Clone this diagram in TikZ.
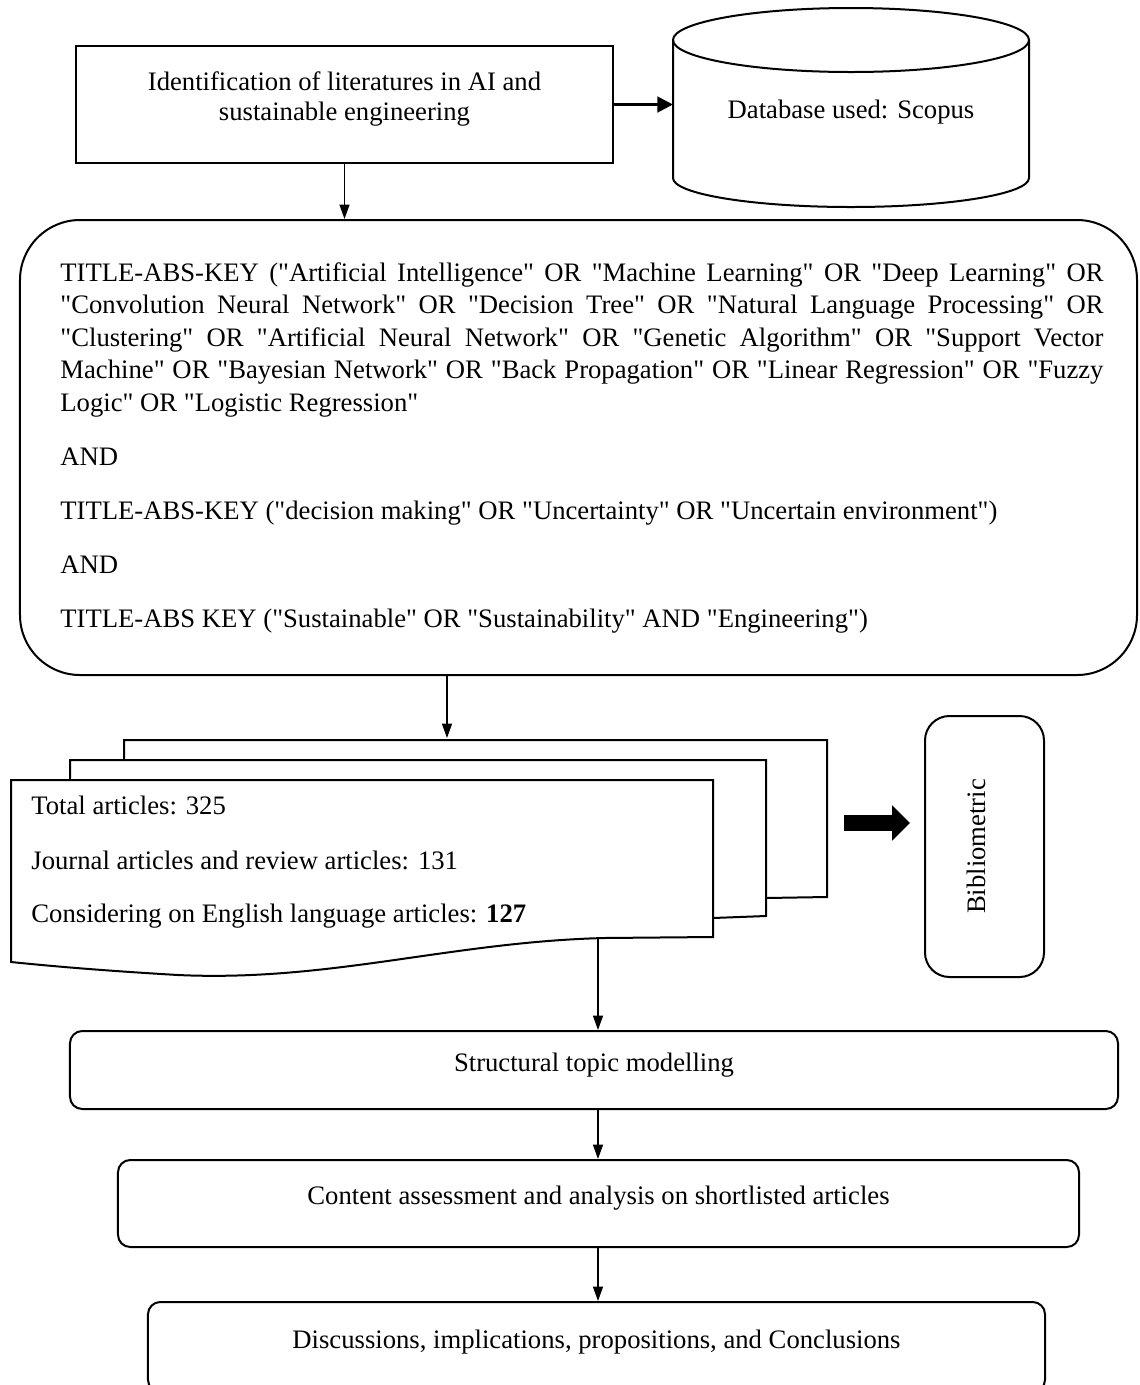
\documentclass[tikz,border=0pt]{standalone}
\usepackage{fontspec}
\setmainfont{Liberation Serif}[Ligatures=TeXOff]
\usetikzlibrary{arrows.meta}
\tikzset{
  box/.style={draw,line width=0.9pt,inner sep=0pt},
  raised/.style={text height=9pt,text depth=8pt},
  txt/.style={inner sep=0pt},
  flow/.style={line width=0.7pt,-{Triangle[length=6.5pt,width=4.5pt]}},
}

\begin{document}
\begin{tikzpicture}[x=0.45pt,y=-0.45pt,font=\fontsize{12}{13.8}\selectfont]
\path[use as bounding box,clip] (0,0) rectangle (1140,1385);

% Identification box and database
\node[box,minimum width=241.65pt,minimum height=52.65pt] (ident) at (344.5,104.5) {};
\node[align=center] (identtext) at (344.5,99) {Identification of literatures in AI and\\sustainable engineering};
\draw[box] (673,40) -- (673,178) arc[start angle=180,end angle=360,x radius=80.1pt,y radius=13.05pt] -- (1029,40);
\draw[box] (851,40) ellipse[x radius=80.1pt,y radius=14.4pt];
\node (db) at (851,112) {Database used: Scopus};
\coordinate (dbleft) at (673,104.5);
\draw[line width=1.3pt,-{Triangle[length=7pt,width=7pt]}] (ident.east) -- (dbleft);

% Search string
\node[box,rounded corners=27pt,minimum width=502.65pt,minimum height=204.75pt] (query) at (578.5,447.5) {};
\node[txt,anchor=north west,text width=469.4pt,align=justify,font=\fontsize{12}{14.6}\selectfont,
  execute at begin node={\tolerance=10000\hyphenpenalty=10000}] (querytext) at (60,262)
  {TITLE-ABS-KEY ("Artificial Intelligence" OR "Machine Learning" OR "Deep Learning" OR\linebreak
  "Convolution Neural Network" OR "Decision Tree" OR "Natural Language Processing" OR\linebreak
  "Clustering" OR "Artificial Neural Network" OR "Genetic Algorithm" OR "Support Vector\linebreak
  Machine" OR "Bayesian Network" OR "Back Propagation" OR "Linear Regression" OR "Fuzzy\linebreak
  Logic" OR "Logistic Regression"\\[9.7pt]
  AND\\[9.7pt]
  TITLE-ABS-KEY ("decision making" OR "Uncertainty" OR "Uncertain environment")\\[9.7pt]
  AND\\[9.7pt]
  TITLE-ABS KEY ("Sustainable" OR "Sustainability" AND "Engineering")};
\draw[flow] (ident.south) -- (ident.south |- query.north);

% Document stack
\coordinate (stacktop) at (447,738);
\draw[flow] (stacktop |- query.south) -- (stacktop);
\draw[box] (766,898) -- (827,897) -- (827,740) -- (124,740) -- (124,760);
\draw[box] (713,918) -- (766,916) -- (766,760) -- (70,760) -- (70,780);
\draw[box] (11,780) -- (713,780) -- (713,937) -- (604,938)
  .. controls (450,942) and (330,982) .. (178,975)
  .. controls (110,971) and (60,967) .. (11,962) -- cycle;
\node[txt,anchor=base west] (total) at (31,814) {Total articles: 325};
\node[txt,anchor=base west] (journal) at (31,869) {Journal articles and review articles: 131};
\node[txt,anchor=base west] (english) at (31,922) {Considering on English language articles: \textbf{127}};

% Bibliometric
\node[box,rounded corners=11pt,rotate=90,minimum width=117.45pt,minimum height=53.55pt,raised] (bib) at (984.5,846.5) {Bibliometric};
\coordinate (blockstart) at (844,823);
\draw[line width=7.6pt,-{Triangle[length=8pt,width=15.3pt]},shorten >=6.3pt] (blockstart) -- (blockstart -| bib.north);

% Analysis steps
\coordinate (stackfoot) at (598,938);
\node[box,rounded corners=5.5pt,minimum width=471.6pt,minimum height=35.1pt,raised] (stm) at (594,1070) {Structural topic modelling};
\node[box,rounded corners=5.5pt,minimum width=432.45pt,minimum height=39.15pt,raised] (content) at (598.5,1203.5) {Content assessment and analysis on shortlisted articles};
\node[box,rounded corners=5.5pt,minimum width=403.65pt,minimum height=40.5pt,raised] (disc) at (596.5,1347) {Discussions, implications, propositions, and Conclusions};
\draw[flow] (stackfoot) -- (stackfoot |- stm.north);
\draw[flow] (stackfoot |- stm.south) -- (stackfoot |- content.north);
\draw[flow] (stackfoot |- content.south) -- (stackfoot |- disc.north);
\end{tikzpicture}
\end{document}
